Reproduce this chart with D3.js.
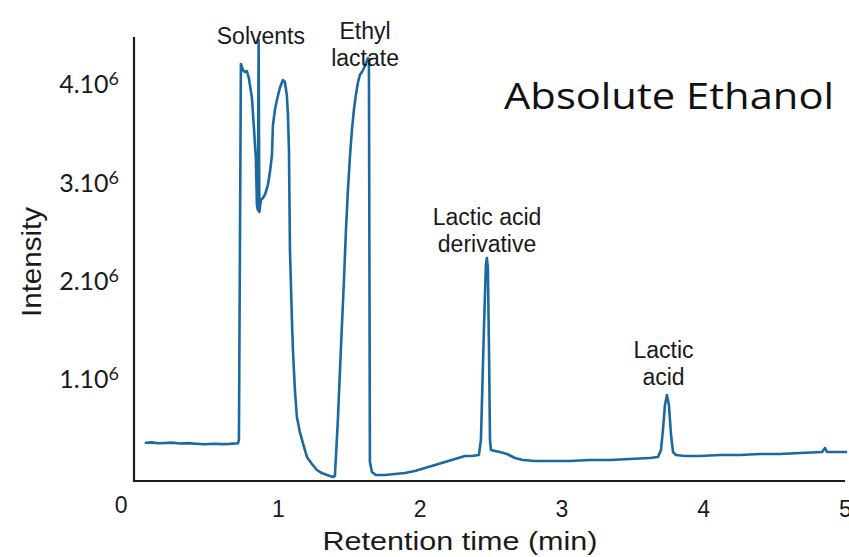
<!DOCTYPE html>
<html>
<head>
<meta charset="utf-8">
<script src="https://cdn.jsdelivr.net/npm/d3@7"></script>
<style>
  html, body { margin: 0; padding: 0; background: #fff; }
  svg { display: block; }
</style>
</head>
<body>
<svg id="chart" width="849" height="557"></svg>
<script>
// ---- data ----
const retentionTime = [
  0.069, 0.111, 0.153, 0.203, 0.252, 0.309, 0.365, 0.422, 0.485, 0.541, 0.605, 0.661, 0.718, 0.725,
  0.739, 0.753, 0.767, 0.781, 0.795, 0.817, 0.831, 0.845, 0.852, 0.859, 0.864, 0.869,
  0.880, 0.894, 0.908, 0.929, 0.944, 0.958, 0.965, 0.979, 0.993, 1.014, 1.035, 1.049,
  1.063, 1.071, 1.078, 1.085, 1.099, 1.106, 1.120, 1.134, 1.155, 1.176, 1.205, 1.240,
  1.275, 1.310, 1.346, 1.388, 1.402, 1.423, 1.444, 1.466, 1.480, 1.494, 1.508, 1.522,
  1.536, 1.550, 1.564, 1.578, 1.593, 1.614, 1.635, 1.642, 1.649, 1.663, 1.691, 1.755,
  1.825, 1.896, 1.966, 2.037, 2.108, 2.178, 2.249, 2.319, 2.369, 2.418, 2.432, 2.453,
  2.467, 2.474, 2.481, 2.489, 2.496, 2.503, 2.531, 2.566, 2.616, 2.672, 2.728, 2.813,
  2.919, 3.060, 3.201, 3.342, 3.483, 3.624, 3.681, 3.702, 3.716, 3.730, 3.744, 3.758,
  3.773, 3.787, 3.808, 3.871, 3.977, 4.118, 4.259, 4.401, 4.541, 4.683, 4.838, 4.859,
  4.873, 5.007
];
// intensity in units of 10^6
const intensity = [
  0.389, 0.393, 0.384, 0.387, 0.390, 0.382, 0.385, 0.379, 0.374, 0.379, 0.375, 0.378, 0.384, 0.417,
  4.242, 4.181, 4.161, 4.171, 4.100, 3.896, 3.591, 3.266, 2.808, 2.757, 4.486, 2.737,
  2.859, 2.879, 2.909, 3.011, 3.143, 3.316, 3.622, 3.774, 3.876, 3.998, 4.079, 4.059,
  3.927, 3.723, 3.367, 2.350, 1.638, 1.333, 0.926, 0.651, 0.498, 0.387, 0.244, 0.173,
  0.112, 0.081, 0.061, 0.041, 0.051, 0.621, 1.333, 2.045, 2.553, 2.960, 3.296, 3.571,
  3.774, 3.927, 4.049, 4.130, 4.161, 4.222, 4.303, 4.283, 0.193, 0.092, 0.061, 0.061,
  0.071, 0.081, 0.102, 0.132, 0.163, 0.193, 0.224, 0.254, 0.254, 0.265, 0.417, 1.536,
  2.197, 2.269, 2.167, 1.333, 0.417, 0.315, 0.305, 0.295, 0.275, 0.234, 0.214, 0.203,
  0.203, 0.203, 0.214, 0.214, 0.224, 0.234, 0.244, 0.315, 0.519, 0.773, 0.875, 0.773,
  0.468, 0.295, 0.265, 0.254, 0.254, 0.265, 0.265, 0.275, 0.275, 0.285, 0.295, 0.336,
  0.295, 0.295
];
const xTicks = [1, 2, 3, 4, 5];
const xOriginLabel = "0";
const yTicks = [1, 2, 3, 4];
const yTickMantissa = ["1.10", "2.10", "3.10", "4.10"];
const yTickExponent = "6";
const peakLabels = [
  { lines: ["Solvents"], t: 0.88, v: 4.45 },
  { lines: ["Ethyl", "lactate"], t: 1.615, v: 4.5 },
  { lines: ["Lactic acid", "derivative"], t: 2.475, v: 2.6 },
  { lines: ["Lactic", "acid"], t: 3.72, v: 1.25 }
];
const titleText = "Absolute Ethanol";
const xTitle = "Retention time (min)";
const yTitle = "Intensity";

// ---- layout ----
const svg = d3.select("#chart");
const x = d3.scaleLinear().domain([-0.015, 5]).range([134, 845]);
const y = d3.scaleLinear().domain([0, 4.517]).range([481, 37]);
const arial = "'Liberation Sans', Arial, sans-serif";
const calibri = "Lato, 'Open Sans', sans-serif";
const calibriTitle = "'Open Sans', Lato, sans-serif";

// axes
const xAxis = d3.axisBottom(x).tickValues(xTicks).tickSize(0).tickSizeOuter(0)
  .tickPadding(20).tickFormat(d3.format("d"));
const gx = svg.append("g").attr("transform", `translate(0,${y(0)})`).call(xAxis);
gx.select(".domain").attr("stroke", "#1a1a1a").attr("stroke-width", 2.2)
  .attr("d", `M${x.range()[0] - 1},0H${x.range()[1]}`);
gx.selectAll(".tick text").attr("font-family", arial).attr("font-size", 23).attr("fill", "#1a1a1a");

svg.append("text").attr("x", x(0) - 15).attr("y", y(0) + 32)
  .attr("text-anchor", "middle").attr("font-family", arial).attr("font-size", 23)
  .attr("fill", "#1a1a1a").text(xOriginLabel);

const yAxis = d3.axisLeft(y).tickValues(yTicks).tickSize(0).tickSizeOuter(0)
  .tickPadding(15).tickFormat((d, i) => yTickMantissa[i]);
const gy = svg.append("g").attr("transform", `translate(${x(-0.015)},0)`).call(yAxis);
gy.select(".domain").attr("stroke", "#1a1a1a").attr("stroke-width", 2.2)
  .attr("d", `M0,${y.range()[1]}V${y.range()[0] + 1}`);
gy.selectAll(".tick text")
  .attr("font-family", calibri).attr("font-size", 25).attr("fill", "#1a1a1a")
  .attr("dy", "0.2em")
  .each(function () {
    d3.select(this).append("tspan").attr("dy", "-0.45em").attr("font-size", 18).text(yTickExponent);
  });

// trace
const series = retentionTime.map((t, i) => ({ t, v: intensity[i] }));
svg.append("path").datum(series)
  .attr("fill", "none").attr("stroke", "#1b699f").attr("stroke-width", 2.6)
  .attr("stroke-linejoin", "round").attr("stroke-linecap", "round")
  .attr("d", d3.line().x(d => x(d.t)).y(d => y(d.v)));

// peak labels
peakLabels.forEach((p) => {
  const g = svg.append("text").attr("font-family", arial).attr("font-size", 23)
    .attr("fill", "#1a1a1a").attr("text-anchor", "middle");
  p.lines.forEach((ln, i) => {
    g.append("tspan").attr("x", x(p.t)).attr("y", y(p.v) + i * 27).text(ln);
  });
});

// title
svg.append("text").attr("x", 669).attr("y", 109).attr("text-anchor", "middle")
  .attr("font-family", calibriTitle).attr("font-size", 37).attr("fill", "#111")
  .attr("textLength", 330).attr("lengthAdjust", "spacingAndGlyphs").text(titleText);

// axis titles
svg.append("text").attr("x", 460).attr("y", 550).attr("text-anchor", "middle")
  .attr("font-family", arial).attr("font-size", 26).attr("fill", "#1a1a1a")
  .attr("textLength", 275).attr("lengthAdjust", "spacingAndGlyphs").text(xTitle);
svg.append("text").attr("transform", "translate(41,262) rotate(-90)").attr("text-anchor", "middle")
  .attr("font-family", arial).attr("font-size", 28).attr("fill", "#1a1a1a")
  .attr("textLength", 110).attr("lengthAdjust", "spacingAndGlyphs").text(yTitle);
</script>
</body>
</html>
